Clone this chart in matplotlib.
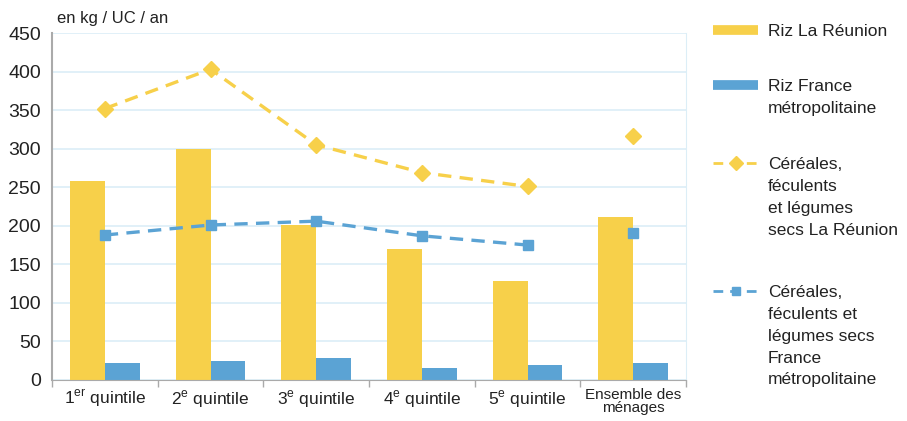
import numpy as np
import matplotlib
matplotlib.use("Agg")
import matplotlib.pyplot as plt
from matplotlib.lines import Line2D

plt.rcParams['font.family'] = ['Liberation Sans', 'DejaVu Sans']

# categories and values (kg / UC / an)
categories = [r"1$^{\mathregular{er}}$ quintile", r"2$^{\mathregular{e}}$ quintile",
              r"3$^{\mathregular{e}}$ quintile", r"4$^{\mathregular{e}}$ quintile",
              r"5$^{\mathregular{e}}$ quintile", "Ensemble des\nménages"]
riz_reunion = [258, 300, 201, 170, 128, 212]
riz_france = [22, 25, 28, 16, 20, 22]
cereales_reunion = [352, 403, 305, 269, 251]
cereales_france = [188, 201, 206, 187, 175]
cereales_reunion_total = 317
cereales_france_total = 191

YELLOW = "#F7D04A"
BLUE = "#5BA3D4"
GRID = "#DCEEF7"
TXT = "#222222"

W, H = 907, 421
fig = plt.figure(figsize=(W / 100, H / 100), dpi=100)
ax = fig.add_axes([52/W, 1 - 380/H, 634/W, 347/H])

x = np.arange(len(categories))
w = 0.33
ax.bar(x - w/2, riz_reunion, width=w, color=YELLOW, zorder=2)
ax.bar(x + w/2, riz_france, width=w, color=BLUE, zorder=2)

xq = x[:len(cereales_reunion)]
ax.plot(xq, cereales_reunion, color=YELLOW, lw=2.4, ls=(0, (4, 2.5)),
        marker='D', ms=8, zorder=3)
ax.plot(xq, cereales_france, color=BLUE, lw=2.4, ls=(0, (4, 2.5)),
        marker='s', ms=7, zorder=3)
ax.plot([x[-1]], [cereales_reunion_total], color=YELLOW, marker='D', ms=8, ls='none', zorder=3)
ax.plot([x[-1]], [cereales_france_total], color=BLUE, marker='s', ms=7, ls='none', zorder=3)

ax.set_xlim(-0.5, len(categories) - 0.5)
ax.set_ylim(0, 450)
ax.set_yticks(range(0, 451, 50))
ax.yaxis.grid(True, color=GRID, lw=1.2, zorder=0)
ax.set_axisbelow(True)

ax.set_xticks(x)
ax.set_xticklabels(categories, fontsize=12.5, color=TXT)
ax.set_xticks(np.arange(-0.5, len(categories), 1), minor=True)
ax.tick_params(axis='x', which='major', length=0, pad=6)
ax.tick_params(axis='x', which='minor', length=5, color="#AAAAAA", width=1)
ax.tick_params(axis='y', length=0, labelsize=14, pad=8, labelcolor=TXT)
last = ax.get_xticklabels()[-1]
last.set_fontsize(11)
last.set_linespacing(0.85)

ax.spines['top'].set_visible(False)
ax.spines['right'].set_color(GRID)
ax.spines['left'].set_color("#AAAAAA")
ax.spines['bottom'].set_color("#AAAAAA")
ax.spines['left'].set_linewidth(1.5)

fig.text(57/W, 1 - 18/H, "en kg / UC / an", fontsize=12, va='center', ha='left', color=TXT)

# legend, drawn by hand to match the stacked layout
legend_items = [
    (dict(color=YELLOW, lw=7, solid_capstyle='butt'), "Riz La Réunion", 30),
    (dict(color=BLUE, lw=7, solid_capstyle='butt'), "Riz France\nmétropolitaine", 85),
    (dict(color=YELLOW, lw=2, ls=(0, (3.5, 2.5)), marker='D', ms=7),
     "Céréales,\nféculents\net légumes\nsecs La Réunion", 163),
    (dict(color=BLUE, lw=2, ls=(0, (3.5, 2.5)), marker='s', ms=6),
     "Céréales,\nféculents et\nlégumes secs\nFrance\nmétropolitaine", 291),
]
for style, label, py in legend_items:
    marker = style.pop('marker', None)
    ms = style.pop('ms', None)
    fig.add_artist(Line2D([713/W, 758/W], [1 - py/H, 1 - py/H], transform=fig.transFigure, **style))
    if marker:
        fig.add_artist(Line2D([735.5/W], [1 - py/H], transform=fig.transFigure, marker=marker,
                              ms=ms, color=style['color'], ls='none'))
    fig.text(768/W, 1 - (py - 6)/H, label, fontsize=12.5, va='top', ha='left',
             color=TXT, linespacing=1.57)

fig.savefig("out.png", dpi=100)
